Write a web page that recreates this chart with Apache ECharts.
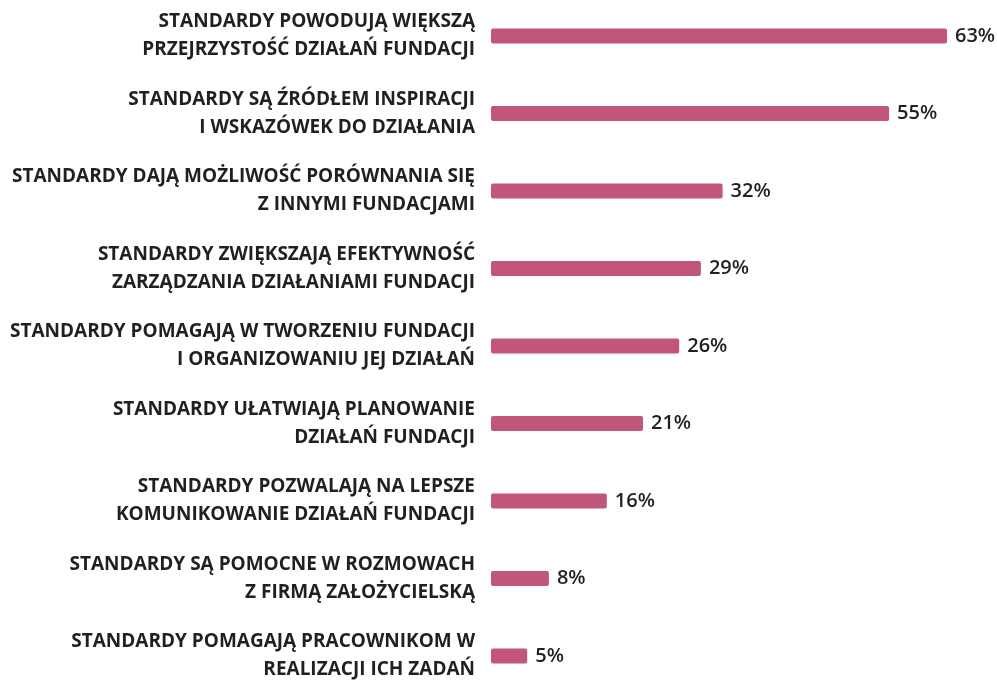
<!DOCTYPE html>
<html>
<head>
<meta charset="utf-8">
<script src="https://cdn.jsdelivr.net/npm/echarts@6/dist/echarts.min.js"></script>
<style>
  html, body { margin: 0; padding: 0; background: #ffffff; }
  #chart { width: 997px; height: 682px; }
</style>
</head>
<body>
<div id="chart"></div>
<script>
// Survey answers: what the foundation standards give (share of respondents)
const categories = [
  'STANDARDY POWODUJĄ WIĘKSZĄ\nPRZEJRZYSTOŚĆ DZIAŁAŃ FUNDACJI',
  'STANDARDY SĄ ŹRÓDŁEM INSPIRACJI\nI WSKAZÓWEK DO DZIAŁANIA',
  'STANDARDY DAJĄ MOŻLIWOŚĆ PORÓWNANIA SIĘ\nZ INNYMI FUNDACJAMI',
  'STANDARDY ZWIĘKSZAJĄ EFEKTYWNOŚĆ\nZARZĄDZANIA DZIAŁANIAMI FUNDACJI',
  'STANDARDY POMAGAJĄ W TWORZENIU FUNDACJI\nI ORGANIZOWANIU JEJ DZIAŁAŃ',
  'STANDARDY UŁATWIAJĄ PLANOWANIE\nDZIAŁAŃ FUNDACJI',
  'STANDARDY POZWALAJĄ NA LEPSZE\nKOMUNIKOWANIE DZIAŁAŃ FUNDACJI',
  'STANDARDY SĄ POMOCNE W ROZMOWACH\nZ FIRMĄ ZAŁOŻYCIELSKĄ',
  'STANDARDY POMAGAJĄ PRACOWNIKOM W\nREALIZACJI ICH ZADAŃ'
];
const values = [63, 55, 32, 29, 26, 21, 16, 8, 5];

const textColor = '#231f20';
const barColor = '#c2557a';
const fontFamily = '"Open Sans", Lato, sans-serif';

const chart = echarts.init(document.getElementById('chart'), null, { renderer: 'canvas' });
chart.setOption({
  animation: false,
  backgroundColor: '#ffffff',
  grid: {
    left: 491, top: -2.75, width: 506.67, height: 697.5,
    containLabel: false, outerBoundsMode: 'none'
  },
  xAxis: {
    type: 'value', min: 0, max: 70,
    show: false
  },
  yAxis: {
    type: 'category',
    data: categories,
    inverse: true,
    axisLine: { show: false },
    axisTick: { show: false },
    splitLine: { show: false },
    axisLabel: {
      margin: 16,
      align: 'right',
      color: textColor,
      fontFamily: fontFamily,
      fontWeight: 700,
      fontSize: 19,
      lineHeight: 28
    }
  },
  series: [{
    type: 'bar',
    data: values,
    barWidth: 15,
    itemStyle: { color: barColor, borderRadius: 2 },
    label: {
      show: true,
      position: 'right',
      distance: 8,
      formatter: '{c}%',
      color: textColor,
      fontFamily: fontFamily,
      fontWeight: 600,
      fontSize: 20
    }
  }]
});
</script>
</body>
</html>
